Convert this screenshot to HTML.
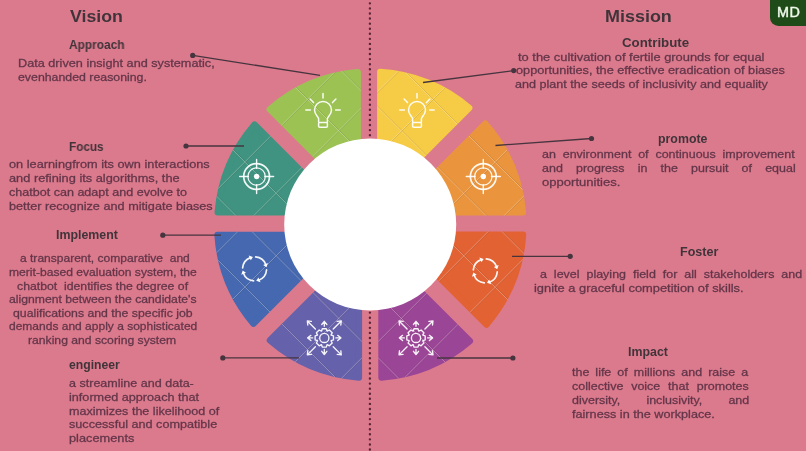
<!DOCTYPE html>
<html lang="en">
<head>
<meta charset="utf-8">
<title>Vision and Mission</title>
<style>
html,body{margin:0;padding:0;}
body{width:806px;height:451px;overflow:hidden;background:#dc7a8d;font-family:"Liberation Sans",sans-serif;}
#stage{position:relative;width:806px;height:451px;overflow:hidden;background:#dc7a8d;filter:blur(0.45px);}
#art{position:absolute;left:0;top:0;}
.t{position:absolute;margin:0;padding:0;white-space:pre;font-weight:400;transform-origin:0 50%;will-change:transform;}
p.t{-webkit-text-stroke:0.3px #64364a;}
#badge{position:absolute;left:769.8px;top:0;width:36.2px;height:25.6px;background:#1e4b17;border-bottom-left-radius:8.5px;}
#badge span{position:absolute;left:7.2px;top:0;color:#f1f8ec;font-weight:400;-webkit-text-stroke:0.45px #f1f8ec;font-size:14.4px;line-height:24.6px;letter-spacing:0.4px;will-change:transform;white-space:pre;}
</style>
</head>
<body>
<div id="stage">
<svg id="art" width="806" height="451" viewBox="0 0 806 451">
<defs><clipPath id="segclip"><path d="M377.10 155.13L377.10 68.65A156.30 156.30 0 0 1 473.89 107.76L412.61 169.03A70.00 70.00 0 0 0 377.10 155.13Z"/><path d="M424.30 180.26L485.45 119.11A156.30 156.30 0 0 1 526.32 215.40L439.67 215.40A70.00 70.00 0 0 0 424.30 180.26Z"/><path d="M439.97 231.60L526.45 231.60A156.30 156.30 0 0 1 486.59 329.23L425.37 268.01A70.00 70.00 0 0 0 439.97 231.60Z"/><path d="M413.35 280.00L474.58 341.23A156.30 156.30 0 0 1 378.30 380.90L378.30 294.34A70.00 70.00 0 0 0 413.35 280.00Z"/><path d="M362.10 294.32L362.10 380.88A156.30 156.30 0 0 1 265.24 340.52L326.42 279.34A70.00 70.00 0 0 0 362.10 294.32Z"/><path d="M314.53 267.11L253.26 328.39A156.30 156.30 0 0 1 214.15 231.70L300.64 231.70A70.00 70.00 0 0 0 314.53 267.11Z"/><path d="M300.92 215.50L214.28 215.50A156.30 156.30 0 0 1 254.39 119.95L315.58 181.14A70.00 70.00 0 0 0 300.92 215.50Z"/><path d="M326.31 170.35L265.13 109.18A156.30 156.30 0 0 1 360.90 68.78L360.90 155.43A70.00 70.00 0 0 0 326.31 170.35Z"/></clipPath></defs>
<line x1="369.9" y1="3.35" x2="369.9" y2="452" stroke="#5e2439" stroke-width="2.4" stroke-linecap="round" stroke-dasharray="0 5.07"/>
<g><path d="M380.30 155.52L380.30 72.03A153.10 153.10 0 0 1 469.19 107.93L409.98 167.14A70.00 70.00 0 0 0 380.30 155.52Z" fill="#f6cb45" stroke="#f6cb45" stroke-width="6.4" stroke-linejoin="round"/><path d="M426.29 182.79L485.32 123.76A153.10 153.10 0 0 1 522.88 212.20L439.16 212.20A70.00 70.00 0 0 0 426.29 182.79Z" fill="#ea953d" stroke="#ea953d" stroke-width="6.4" stroke-linejoin="round"/><path d="M439.58 234.80L523.07 234.80A153.10 153.10 0 0 1 486.44 324.56L427.31 265.42A70.00 70.00 0 0 0 439.58 234.80Z" fill="#e26234" stroke="#e26234" stroke-width="6.4" stroke-linejoin="round"/><path d="M410.75 281.93L469.90 341.08A153.10 153.10 0 0 1 381.50 377.49L381.50 293.90A70.00 70.00 0 0 0 410.75 281.93Z" fill="#9b4597" stroke="#9b4597" stroke-width="6.4" stroke-linejoin="round"/><path d="M358.90 293.87L358.90 377.47A153.10 153.10 0 0 1 269.90 340.38L328.98 281.30A70.00 70.00 0 0 0 358.90 293.87Z" fill="#6661ab" stroke="#6661ab" stroke-width="6.4" stroke-linejoin="round"/><path d="M312.64 264.48L253.43 323.69A153.10 153.10 0 0 1 217.53 234.90L301.03 234.90A70.00 70.00 0 0 0 312.64 264.48Z" fill="#4568b0" stroke="#4568b0" stroke-width="6.4" stroke-linejoin="round"/><path d="M301.43 212.30L217.71 212.30A153.10 153.10 0 0 1 254.53 124.61L313.63 183.71A70.00 70.00 0 0 0 301.43 212.30Z" fill="#3f9380" stroke="#3f9380" stroke-width="6.4" stroke-linejoin="round"/><path d="M328.86 168.38L269.79 109.31A153.10 153.10 0 0 1 357.70 72.22L357.70 155.94A70.00 70.00 0 0 0 328.86 168.38Z" fill="#9bc253" stroke="#9bc253" stroke-width="6.4" stroke-linejoin="round"/></g>
<g clip-path="url(#segclip)" fill="none"><path d="M-381.0 600L319.0 -100M-517.0 -100L183.0 600M-318.4 600L381.6 -100M-454.5 -100L245.5 600M-255.8 600L444.2 -100M-392.0 -100L308.0 600M-193.2 600L506.8 -100M-329.5 -100L370.5 600M-130.6 600L569.4 -100M-267.0 -100L433.0 600M-68.0 600L632.0 -100M-204.5 -100L495.5 600M-5.4 600L694.6 -100M-142.0 -100L558.0 600M57.2 600L757.2 -100M-79.5 -100L620.5 600M119.8 600L819.8 -100M-17.0 -100L683.0 600M182.4 600L882.4 -100M45.5 -100L745.5 600M245.0 600L945.0 -100M108.0 -100L808.0 600M307.6 600L1007.6 -100M170.5 -100L870.5 600M370.2 600L1070.2 -100M233.0 -100L933.0 600M432.8 600L1132.8 -100M295.5 -100L995.5 600M495.4 600L1195.4 -100M358.0 -100L1058.0 600" stroke="#fff" stroke-opacity="0.33" stroke-width="0.9"/><path d="M-381.0 600L319.0 -100M-517.0 -100L183.0 600M-318.4 600L381.6 -100M-454.5 -100L245.5 600M-255.8 600L444.2 -100M-392.0 -100L308.0 600M-193.2 600L506.8 -100M-329.5 -100L370.5 600M-130.6 600L569.4 -100M-267.0 -100L433.0 600M-68.0 600L632.0 -100M-204.5 -100L495.5 600M-5.4 600L694.6 -100M-142.0 -100L558.0 600M57.2 600L757.2 -100M-79.5 -100L620.5 600M119.8 600L819.8 -100M-17.0 -100L683.0 600M182.4 600L882.4 -100M45.5 -100L745.5 600M245.0 600L945.0 -100M108.0 -100L808.0 600M307.6 600L1007.6 -100M170.5 -100L870.5 600M370.2 600L1070.2 -100M233.0 -100L933.0 600M432.8 600L1132.8 -100M295.5 -100L995.5 600M495.4 600L1195.4 -100M358.0 -100L1058.0 600" transform="translate(0.9 0)" stroke="#4a3010" stroke-opacity="0.16" stroke-width="0.8"/></g>
<circle cx="370.2" cy="224.5" r="86" fill="#fff"/>
<g fill="none" stroke="#46353f" stroke-width="1.3"><line x1="192.7" y1="55.4" x2="320" y2="75.3"/><circle cx="192.7" cy="55.4" r="2.6" fill="#46353f" stroke="none"/><line x1="186" y1="146" x2="244" y2="146"/><circle cx="186" cy="146" r="2.6" fill="#46353f" stroke="none"/><line x1="162.8" y1="235.2" x2="221" y2="235.2"/><circle cx="162.8" cy="235.2" r="2.6" fill="#46353f" stroke="none"/><line x1="222.8" y1="357.9" x2="299" y2="357.9"/><circle cx="222.8" cy="357.9" r="2.6" fill="#46353f" stroke="none"/><line x1="513.7" y1="70.6" x2="423" y2="82.5"/><circle cx="513.7" cy="70.6" r="2.6" fill="#46353f" stroke="none"/><line x1="591.5" y1="138.5" x2="495.5" y2="145.5"/><circle cx="591.5" cy="138.5" r="2.6" fill="#46353f" stroke="none"/><line x1="570.2" y1="256.3" x2="512" y2="256.3"/><circle cx="570.2" cy="256.3" r="2.6" fill="#46353f" stroke="none"/><line x1="512.9" y1="358.0" x2="437" y2="358.0"/><circle cx="512.9" cy="358.0" r="2.6" fill="#46353f" stroke="none"/></g>
<g fill="none" stroke="#fff" stroke-opacity="0.93" stroke-width="1.5" stroke-linecap="round" stroke-linejoin="round"><path d="M318.6 121.89999999999999v-3.2c0-1.6-4.1-4-4.1-8.6a8.5 8.5 0 0 1 17 0c0 4.6-4.1 7-4.1 8.600v3.2"/><rect x="318.6" y="122.39999999999999" width="8.8" height="4.8" rx="1"/><path d="M323 98.0v-4.4M310.4 110.1h-4.6M335.6 110.1h4.6M313.5 102.6l-3.4-3.6M332.5 102.6l3.4-3.6"/><path d="M412.6 121.89999999999999v-3.2c0-1.6-4.1-4-4.1-8.6a8.5 8.5 0 0 1 17 0c0 4.6-4.1 7-4.1 8.600v3.2"/><rect x="412.6" y="122.39999999999999" width="8.8" height="4.8" rx="1"/><path d="M417 98.0v-4.4M404.4 110.1h-4.6M429.6 110.1h4.6M407.5 102.6l-3.4-3.6M426.5 102.6l3.4-3.6"/><circle cx="256.6" cy="176.5" r="12.9" stroke-width="1.7"/><circle cx="256.6" cy="176.5" r="8.7" stroke-width="1.25"/><circle cx="256.6" cy="176.5" r="2.7" fill="#fff" stroke="none"/><path d="M256.6 159.5v8.8M256.6 193.5v-8.8M239.60000000000002 176.5h8.8M273.6 176.5h-8.8" stroke-width="1.4"/><circle cx="483.3" cy="176.5" r="12.9" stroke-width="1.7"/><circle cx="483.3" cy="176.5" r="8.7" stroke-width="1.25"/><circle cx="483.3" cy="176.5" r="2.7" fill="#fff" stroke="none"/><path d="M483.3 159.5v8.8M483.3 193.5v-8.8M466.3 176.5h8.8M500.3 176.5h-8.8" stroke-width="1.4"/><path d="M255.65 256.95A12.0 12.0 0 0 1 265.88 264.80" stroke-width="1.7"/><path d="M266.48 267.23L267.94 262.96L263.19 265.08Z" fill="#fff" stroke="none"/><path d="M266.55 269.95A12.0 12.0 0 0 1 258.70 280.18" stroke-width="1.7"/><path d="M256.27 280.78L260.54 282.24L258.42 277.49Z" fill="#fff" stroke="none"/><path d="M253.55 280.85A12.0 12.0 0 0 1 243.32 273.00" stroke-width="1.7"/><path d="M242.72 270.57L241.26 274.84L246.01 272.72Z" fill="#fff" stroke="none"/><path d="M242.65 267.85A12.0 12.0 0 0 1 250.50 257.62" stroke-width="1.7"/><path d="M252.93 257.02L248.66 255.56L250.78 260.31Z" fill="#fff" stroke="none"/><path d="M486.35 258.95A12.0 12.0 0 0 1 496.58 266.80" stroke-width="1.7"/><path d="M497.18 269.23L498.64 264.96L493.89 267.08Z" fill="#fff" stroke="none"/><path d="M497.25 271.95A12.0 12.0 0 0 1 489.40 282.18" stroke-width="1.7"/><path d="M486.97 282.78L491.24 284.24L489.12 279.49Z" fill="#fff" stroke="none"/><path d="M484.25 282.85A12.0 12.0 0 0 1 474.02 275.00" stroke-width="1.7"/><path d="M473.42 272.57L471.96 276.84L476.71 274.72Z" fill="#fff" stroke="none"/><path d="M473.35 269.85A12.0 12.0 0 0 1 481.20 259.62" stroke-width="1.7"/><path d="M483.63 259.02L479.36 257.56L481.48 262.31Z" fill="#fff" stroke="none"/><path d="M321.60 331.01L322.29 328.72L326.31 328.72L327.00 331.01L327.27 331.12L329.37 329.98L332.22 332.83L331.08 334.93L331.19 335.20L333.48 335.89L333.48 339.91L331.19 340.60L331.08 340.87L332.22 342.97L329.37 345.82L327.27 344.68L327.00 344.79L326.31 347.08L322.29 347.08L321.60 344.79L321.33 344.68L319.23 345.82L316.38 342.97L317.52 340.87L317.41 340.60L315.12 339.91L315.12 335.89L317.41 335.20L317.52 334.93L316.38 332.83L319.23 329.98L321.33 331.12Z" stroke-linejoin="round" stroke-width="1.35"/><circle cx="324.3" cy="337.9" r="4.6" stroke-width="1.35"/><path d="M335.90 337.90L340.90 337.90M337.70 340.46L340.90 337.90L337.70 335.34" stroke-width="1.35"/><path d="M333.21 346.81L341.27 354.87M337.20 354.42L341.27 354.87L340.82 350.80" stroke-width="1.35"/><path d="M324.30 349.50L324.30 354.50M321.74 351.30L324.30 354.50L326.86 351.30" stroke-width="1.35"/><path d="M315.39 346.81L307.33 354.87M307.78 350.80L307.33 354.87L311.40 354.42" stroke-width="1.35"/><path d="M312.70 337.90L307.70 337.90M310.90 335.34L307.70 337.90L310.90 340.46" stroke-width="1.35"/><path d="M315.39 328.99L307.33 320.93M311.40 321.38L307.33 320.93L307.78 325.00" stroke-width="1.35"/><path d="M324.30 326.30L324.30 321.30M326.86 324.50L324.30 321.30L321.74 324.50" stroke-width="1.35"/><path d="M333.21 328.99L341.27 320.93M340.82 325.00L341.27 320.93L337.20 321.38" stroke-width="1.35"/><path d="M413.30 331.01L413.99 328.72L418.01 328.72L418.70 331.01L418.97 331.12L421.07 329.98L423.92 332.83L422.78 334.93L422.89 335.20L425.18 335.89L425.18 339.91L422.89 340.60L422.78 340.87L423.92 342.97L421.07 345.82L418.97 344.68L418.70 344.79L418.01 347.08L413.99 347.08L413.30 344.79L413.03 344.68L410.93 345.82L408.08 342.97L409.22 340.87L409.11 340.60L406.82 339.91L406.82 335.89L409.11 335.20L409.22 334.93L408.08 332.83L410.93 329.98L413.03 331.12Z" stroke-linejoin="round" stroke-width="1.35"/><circle cx="416" cy="337.9" r="4.6" stroke-width="1.35"/><path d="M427.60 337.90L432.60 337.90M429.40 340.46L432.60 337.90L429.40 335.34" stroke-width="1.35"/><path d="M424.91 346.81L432.97 354.87M428.90 354.42L432.97 354.87L432.52 350.80" stroke-width="1.35"/><path d="M416.00 349.50L416.00 354.50M413.44 351.30L416.00 354.50L418.56 351.30" stroke-width="1.35"/><path d="M407.09 346.81L399.03 354.87M399.48 350.80L399.03 354.87L403.10 354.42" stroke-width="1.35"/><path d="M404.40 337.90L399.40 337.90M402.60 335.34L399.40 337.90L402.60 340.46" stroke-width="1.35"/><path d="M407.09 328.99L399.03 320.93M403.10 321.38L399.03 320.93L399.48 325.00" stroke-width="1.35"/><path d="M416.00 326.30L416.00 321.30M418.56 324.50L416.00 321.30L413.44 324.50" stroke-width="1.35"/><path d="M424.91 328.99L432.97 320.93M432.52 325.00L432.97 320.93L428.90 321.38" stroke-width="1.35"/></g>
</svg>
<h1 class="t" style="left:69.68px;top:5.77px;font-size:17.4px;line-height:20px;color:#40343a;font-weight:700;transform:scaleX(1.0200);">Vision</h1>
<h2 class="t" style="left:68.59px;top:37.87px;font-size:12.2px;line-height:14px;color:#40343a;font-weight:700;transform:scaleX(0.9744);">Approach</h2>
<p class="t" style="left:17.78px;top:56.32px;font-size:11.5px;line-height:14px;color:#64364a;transform:scaleX(1.1030);">Data driven insight and systematic,</p>
<p class="t" style="left:17.80px;top:70.02px;font-size:11.5px;line-height:14px;color:#64364a;transform:scaleX(1.0723);">evenhanded reasoning.</p>
<h2 class="t" style="left:69.00px;top:139.57px;font-size:12.2px;line-height:14px;color:#40343a;font-weight:700;transform:scaleX(0.9636);">Focus</h2>
<p class="t" style="left:8.77px;top:157.22px;font-size:11.5px;line-height:14px;color:#64364a;transform:scaleX(1.1096);">on learningfrom its own interactions</p>
<p class="t" style="left:8.77px;top:171.22px;font-size:11.5px;line-height:14px;color:#64364a;transform:scaleX(1.1123);">and refining its algorithms, the</p>
<p class="t" style="left:8.78px;top:185.02px;font-size:11.5px;line-height:14px;color:#64364a;transform:scaleX(1.0915);">chatbot can adapt and evolve to</p>
<p class="t" style="left:8.78px;top:198.62px;font-size:11.5px;line-height:14px;color:#64364a;transform:scaleX(1.1026);">better recognize and mitigate biases</p>
<h2 class="t" style="left:55.50px;top:227.77px;font-size:12.2px;line-height:14px;color:#40343a;font-weight:700;transform:scaleX(1.0158);">Implement</h2>
<p class="t" style="left:19.62px;top:251.42px;font-size:11.5px;line-height:14px;color:#64364a;transform:scaleX(1.0458);">a transparent, comparative  and</p>
<p class="t" style="left:9.21px;top:264.97px;font-size:11.5px;line-height:14px;color:#64364a;transform:scaleX(1.0529);">merit-based evaluation system, the</p>
<p class="t" style="left:16.90px;top:278.52px;font-size:11.5px;line-height:14px;color:#64364a;transform:scaleX(1.0658);">chatbot  identifies the degree of</p>
<p class="t" style="left:9.21px;top:292.07px;font-size:11.5px;line-height:14px;color:#64364a;transform:scaleX(1.0610);">alignment between the candidate&#39;s</p>
<p class="t" style="left:13.20px;top:305.62px;font-size:11.5px;line-height:14px;color:#64364a;transform:scaleX(1.0685);">qualifications and the specific job</p>
<p class="t" style="left:9.22px;top:319.17px;font-size:11.5px;line-height:14px;color:#64364a;transform:scaleX(1.0441);">demands and apply a sophisticated</p>
<p class="t" style="left:28.01px;top:332.72px;font-size:11.5px;line-height:14px;color:#64364a;transform:scaleX(1.0578);">ranking and scoring system</p>
<h2 class="t" style="left:68.96px;top:358.27px;font-size:12.2px;line-height:14px;color:#40343a;font-weight:700;transform:scaleX(0.9938);">engineer</h2>
<p class="t" style="left:68.59px;top:375.92px;font-size:11.5px;line-height:14px;color:#64364a;transform:scaleX(1.0906);">a streamline and data-</p>
<p class="t" style="left:68.58px;top:389.77px;font-size:11.5px;line-height:14px;color:#64364a;transform:scaleX(1.1003);">informed approach that</p>
<p class="t" style="left:68.58px;top:403.62px;font-size:11.5px;line-height:14px;color:#64364a;transform:scaleX(1.0935);">maximizes the likelihood of</p>
<p class="t" style="left:68.58px;top:417.47px;font-size:11.5px;line-height:14px;color:#64364a;transform:scaleX(1.0985);">successful and compatible</p>
<p class="t" style="left:68.56px;top:431.32px;font-size:11.5px;line-height:14px;color:#64364a;transform:scaleX(1.1111);">placements</p>
<h1 class="t" style="left:604.68px;top:5.77px;font-size:17.4px;line-height:20px;color:#40343a;font-weight:700;transform:scaleX(1.0320);">Mission</h1>
<h2 class="t" style="left:621.61px;top:35.93px;font-size:13.2px;line-height:14px;color:#40343a;font-weight:700;transform:scaleX(1.0077);">Contribute</h2>
<p class="t" style="left:518.16px;top:50.12px;font-size:11.5px;line-height:14px;color:#64364a;transform:scaleX(1.1208);">to the cultivation of fertile grounds for equal</p>
<p class="t" style="left:515.87px;top:63.42px;font-size:11.5px;line-height:14px;color:#64364a;transform:scaleX(1.1078);">opportunities, the effective eradication of biases</p>
<p class="t" style="left:515.18px;top:77.02px;font-size:11.5px;line-height:14px;color:#64364a;transform:scaleX(1.0959);">and plant the seeds of inclusivity and equality</p>
<h2 class="t" style="left:657.50px;top:131.57px;font-size:12.2px;line-height:14px;color:#40343a;font-weight:700;transform:scaleX(1.0135);">promote</h2>
<p class="t" style="left:541.69px;top:147.22px;font-size:11.5px;line-height:14px;color:#64364a;word-spacing:3.088px;transform:scaleX(1.0850);">an environment of continuous improvement</p>
<p class="t" style="left:541.69px;top:161.42px;font-size:11.5px;line-height:14px;color:#64364a;word-spacing:8.924px;transform:scaleX(1.0850);">and progress in the pursuit of equal</p>
<p class="t" style="left:541.65px;top:175.02px;font-size:11.5px;line-height:14px;color:#64364a;transform:scaleX(1.1355);">opportunities.</p>
<h2 class="t" style="left:679.50px;top:245.07px;font-size:12.2px;line-height:14px;color:#40343a;font-weight:700;transform:scaleX(1.0281);">Foster</h2>
<p class="t" style="left:539.79px;top:267.22px;font-size:11.5px;line-height:14px;color:#64364a;word-spacing:3.195px;transform:scaleX(1.0850);">a level playing field for all stakeholders and</p>
<p class="t" style="left:534.06px;top:281.22px;font-size:11.5px;line-height:14px;color:#64364a;transform:scaleX(1.1192);">ignite a graceful competition of skills.</p>
<h2 class="t" style="left:627.50px;top:344.87px;font-size:12.2px;line-height:14px;color:#40343a;font-weight:700;transform:scaleX(1.0162);">Impact</h2>
<p class="t" style="left:572.09px;top:365.02px;font-size:11.5px;line-height:14px;color:#64364a;word-spacing:2.348px;transform:scaleX(1.0850);">the life of millions and raise a</p>
<p class="t" style="left:572.09px;top:379.02px;font-size:11.5px;line-height:14px;color:#64364a;word-spacing:4.016px;transform:scaleX(1.0850);">collective voice that promotes</p>
<p class="t" style="left:572.09px;top:393.22px;font-size:11.5px;line-height:14px;color:#64364a;word-spacing:20.857px;transform:scaleX(1.0850);">diversity, inclusivity, and</p>
<p class="t" style="left:572.08px;top:407.12px;font-size:11.5px;line-height:14px;color:#64364a;transform:scaleX(1.1008);">fairness in the workplace.</p>
<div id="badge"><span>MD</span></div>
</div>
</body>
</html>
